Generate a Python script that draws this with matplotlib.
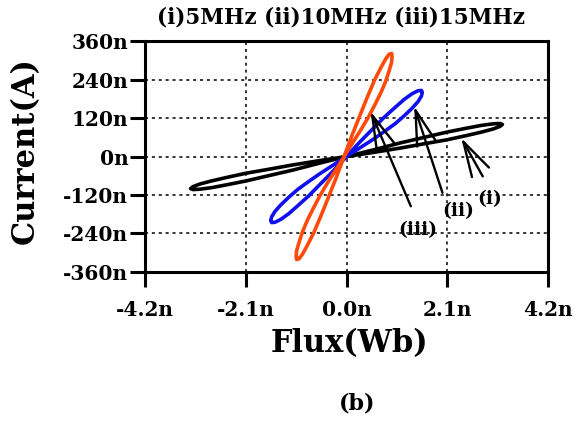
import matplotlib
matplotlib.use("Agg")
import matplotlib.pyplot as plt

# Loop (i) 5MHz, black: flux in nWb, current in nA
flux_i = [0.00, 0.57, 1.11, 1.63, 2.09, 2.49, 2.81, 3.06, 3.20, 3.25, 3.20, 3.06,
          2.81, 2.49, 2.09, 1.63, 1.11, 0.57, 0.00, -0.57, -1.11, -1.63, -2.09, -2.49,
          -2.81, -3.06, -3.20, -3.25, -3.20, -3.06, -2.81, -2.49, -2.09, -1.63, -1.11, -0.57, 0.00]
current_i = [0, 21, 42, 60, 76, 88, 97, 102, 103, 100, 94, 86,
             76, 65, 52, 40, 26, 13, 0, -13, -26, -40, -52, -65,
             -76, -86, -94, -100, -103, -102, -97, -88, -76, -60, -42, -21, 0]

# Loop (ii) 10MHz, blue
flux_ii = [0.00, 0.27, 0.54, 0.79, 1.02, 1.21, 1.37, 1.49, 1.56, 1.58, 1.56, 1.49,
           1.37, 1.21, 1.02, 0.79, 0.54, 0.27, 0.00, -0.27, -0.54, -0.79, -1.02, -1.21,
           -1.37, -1.49, -1.56, -1.58, -1.56, -1.49, -1.37, -1.21, -1.02, -0.79, -0.54, -0.27, 0.00]
current_ii = [0, 44, 85, 123, 154, 179, 196, 205, 206, 200, 188, 171,
              151, 128, 103, 78, 52, 26, 0, -26, -52, -78, -103, -128,
              -151, -171, -188, -200, -206, -205, -196, -179, -154, -123, -85, -44, 0]

# Loop (iii) 15MHz, orange
flux_iii = [-0.05, 0.12, 0.29, 0.45, 0.59, 0.72, 0.82, 0.89, 0.94, 0.95, 0.94, 0.89,
            0.82, 0.72, 0.59, 0.45, 0.29, 0.12, -0.05, -0.22, -0.39, -0.55, -0.69, -0.82,
            -0.92, -0.99, -1.04, -1.05, -1.04, -0.99, -0.92, -0.82, -0.69, -0.55, -0.39, -0.22, -0.05]
current_iii = [0, 68, 132, 191, 240, 278, 305, 319, 321, 312, 294, 268,
               236, 200, 161, 121, 81, 41, 0, -41, -81, -121, -161, -200,
               -236, -268, -294, -312, -321, -319, -305, -278, -240, -191, -132, -68, 0]

x_ticks = [-4.2, -2.1, 0.0, 2.1, 4.2]
x_labels = ["-4.2n", "-2.1n", "0.0n", "2.1n", "4.2n"]
y_ticks = [-360, -240, -120, 0, 120, 240, 360]
y_labels = ["-360n", "-240n", "-120n", "0n", "120n", "240n", "360n"]

# Annotation labels: text position, arrow tail and arrow tip (flux, current)
labels = ["(iii)", "(ii)", "(i)"]
label_pos = [(1.48, -228), (2.32, -171), (2.98, -134)]
tail_pos = [(1.34, -155), (2.00, -113), (2.84, -62)]
tip_pos = [(0.50, 141), (1.41, 157), (2.39, 58)]

serif = "DejaVu Serif"

fig = plt.figure(figsize=(5.87, 4.23), dpi=100)
ax = fig.add_axes([0.247, 0.357, 0.6866, 0.546])

ax.plot(flux_i, current_i, color="black", lw=2.6, solid_joinstyle="round")
ax.plot(flux_ii, current_ii, color="#1010ee", lw=2.6, solid_joinstyle="round")
ax.plot(flux_iii, current_iii, color="#ff4a0a", lw=2.6, solid_joinstyle="round")

# Arrows pointing at each loop
for lab, lp, tp, hp in zip(labels, label_pos, tail_pos, tip_pos):
    ax.annotate("", xy=hp, xytext=tp,
                arrowprops=dict(arrowstyle="->,head_length=1.8,head_width=0.5",
                                color="black", lw=1.7, mutation_scale=14,
                                shrinkA=0, shrinkB=0))
    ax.text(lp[0], lp[1], lab, ha="center", va="center", fontsize=13.5,
            fontweight="bold", family=serif)

ax.set_xlim(-4.2, 4.2)
ax.set_ylim(-360, 360)
ax.set_xticks(x_ticks)
ax.set_xticklabels(x_labels)
ax.set_yticks(y_ticks)
ax.set_yticklabels(y_labels)

for lbl in ax.get_xticklabels() + ax.get_yticklabels():
    lbl.set_family(serif)
    lbl.set_fontweight("bold")
    lbl.set_fontsize(14.5)

ax.tick_params(axis="both", direction="out", length=11, width=2.2, color="black")
ax.tick_params(axis="x", pad=9)
ax.tick_params(axis="y", pad=1)

for s in ax.spines.values():
    s.set_linewidth(2.2)

ax.grid(True, color="black", lw=1.1, linestyle=(0, (2, 2.5)))
ax.set_axisbelow(True)

fig.text(0.581, 0.958, "(i)5MHz (ii)10MHz (iii)15MHz", ha="center", va="center",
         fontsize=15.5, fontweight="bold", family=serif)
fig.text(0.596, 0.189, "Flux(Wb)", ha="center", va="center",
         fontsize=22, fontweight="bold", family=serif)
fig.text(0.043, 0.645, "Current(A)", ha="center", va="center", rotation=90,
         fontsize=22, fontweight="bold", family=serif)
fig.text(0.608, 0.047, "(b)", ha="center", va="center",
         fontsize=16, fontweight="bold", family=serif)

fig.savefig("out.png", dpi=100)
